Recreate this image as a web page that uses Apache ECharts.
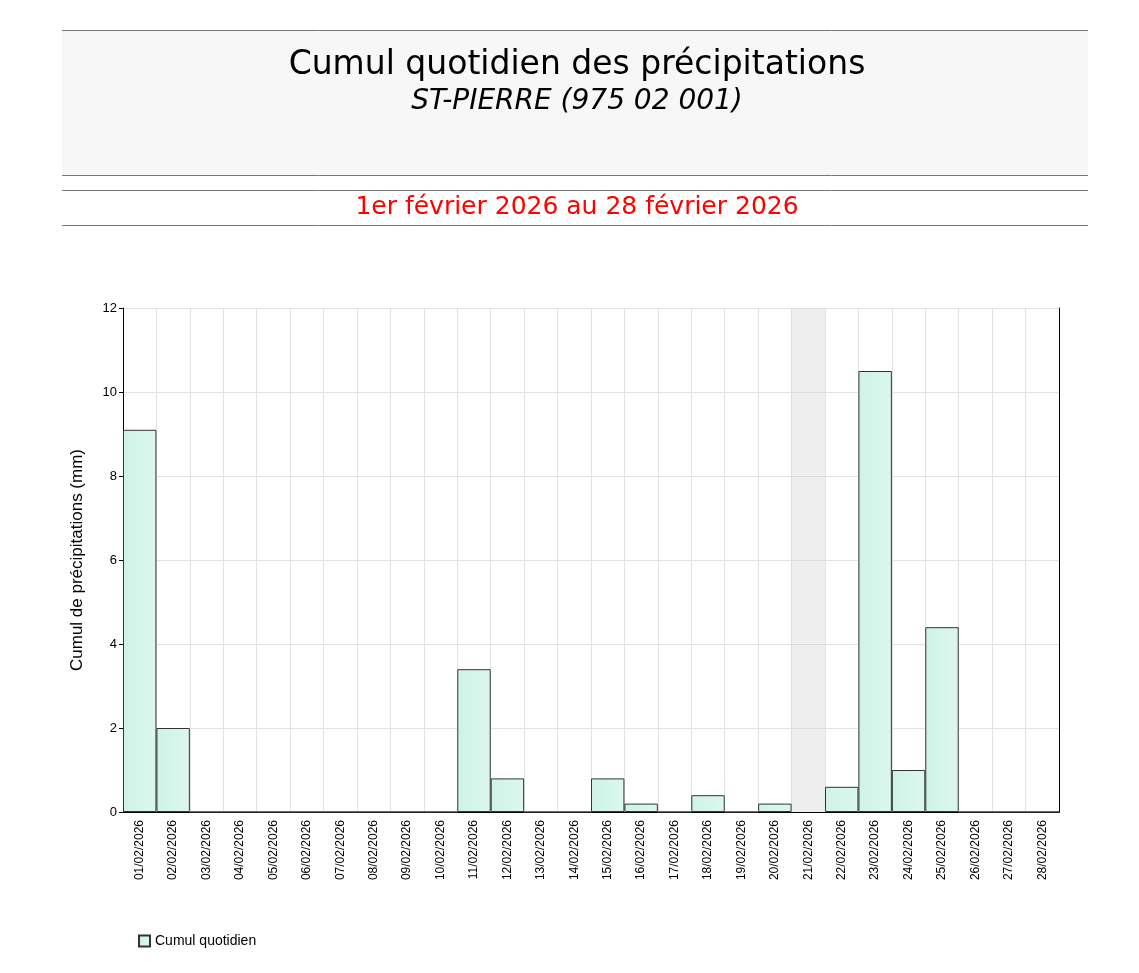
<!DOCTYPE html>
<html><head><meta charset="utf-8">
<script src="https://cdn.jsdelivr.net/npm/echarts@6/dist/echarts.min.js"></script>
<style>html,body{margin:0;padding:0;background:#fff}#c{width:1139px;height:973px}</style>
</head><body><div id="c"></div>
<script>
const categories = ['01/02/2026','02/02/2026','03/02/2026','04/02/2026','05/02/2026','06/02/2026','07/02/2026','08/02/2026','09/02/2026','10/02/2026','11/02/2026','12/02/2026','13/02/2026','14/02/2026','15/02/2026','16/02/2026','17/02/2026','18/02/2026','19/02/2026','20/02/2026','21/02/2026','22/02/2026','23/02/2026','24/02/2026','25/02/2026','26/02/2026','27/02/2026','28/02/2026'];
const values = [9.1,2.0,0,0,0,0,0,0,0,0,3.4,0.8,0,0,0.8,0.2,0,0.4,0,0.2,null,0.6,10.5,1.0,4.4,0,0,0];
const missingDays = ['21/02/2026'];
const chart = echarts.init(document.getElementById('c'));
const F = 'Liberation Sans, Arial, sans-serif';
chart.setOption({
  animation:false,
  graphic:[
    {type:'rect',shape:{x:62,y:30,width:1026,height:145},style:{fill:'#f7f7f7',stroke:null}},
    {type:'line',shape:{x1:62,y1:30.5,x2:1088,y2:30.5},style:{stroke:'#777',lineWidth:1}},
    {type:'line',shape:{x1:62,y1:175.5,x2:1088,y2:175.5},style:{stroke:'#777',lineWidth:1}},
    {type:'line',shape:{x1:62,y1:190.5,x2:1088,y2:190.5},style:{stroke:'#777',lineWidth:1}},
    {type:'line',shape:{x1:62,y1:225.5,x2:1088,y2:225.5},style:{stroke:'#777',lineWidth:1}},
    {type:'text',x:577,y:65,style:{text:'Cumul quotidien des précipitations',font:'33px DejaVu Sans',fill:'#000',align:'center',verticalAlign:'middle'}},
    {type:'text',x:577,y:102,style:{text:'ST-PIERRE (975 02 001)',font:'italic 28px DejaVu Sans',fill:'#000',align:'center',verticalAlign:'middle'}},
    {type:'text',x:577,y:207,style:{text:'1er février 2026 au 28 février 2026',font:'25px DejaVu Sans',fill:'#ff0000',align:'center',verticalAlign:'middle'}}
  ],
  legend:{left:133,top:929,itemWidth:11,itemHeight:11,itemGap:5,icon:'rect',textStyle:{fontFamily:F,fontSize:14,color:'#000'},data:['Cumul quotidien']},
  grid:{left:123,right:80,top:308,bottom:161,containLabel:false},
  xAxis:[{type:'category',data:categories,boundaryGap:true,
    axisLine:{lineStyle:{color:'#000'}},axisTick:{show:false},
    axisLabel:{rotate:90,fontFamily:F,fontSize:12,color:'#000',interval:0,margin:8},
    splitLine:{show:true,interval:0,lineStyle:{color:'#e2e2e2'}}},
    {type:'category',data:categories,position:'top',axisLine:{show:true,lineStyle:{color:'#000'}},axisTick:{show:false},axisLabel:{show:false},splitLine:{show:false}}],
  yAxis:[{type:'value',min:0,max:12,interval:2,name:'Cumul de précipitations (mm)',nameLocation:'middle',nameGap:37,
    nameTextStyle:{fontFamily:F,fontSize:17,color:'#000'},
    axisLine:{show:true,lineStyle:{color:'#000'}},axisTick:{show:true,length:4,lineStyle:{color:'#000'}},
    axisLabel:{fontFamily:F,fontSize:13,color:'#000',margin:6},
    splitLine:{lineStyle:{color:'#e2e2e2'}}},
    {type:'value',min:0,max:12,interval:2,position:'right',axisLine:{show:true,lineStyle:{color:'#000'}},axisTick:{show:false},axisLabel:{show:false},splitLine:{show:false}}],
  series:[
    {type:'bar',name:'Cumul quotidien',data:values,barWidth:'100%',barCategoryGap:'0%',
     itemStyle:{color:new echarts.graphic.LinearGradient(0,0,1,0,[{offset:0,color:'#cdf4e6'},{offset:1,color:'#ddf7ee'}]),borderColor:'#333',borderWidth:1},
     markArea:{silent:true,itemStyle:{color:'rgba(200,200,200,0.3)'},data:missingDays.map(d=>[{xAxis:d},{xAxis:d}])}}
  ]
});
</script></body></html>
